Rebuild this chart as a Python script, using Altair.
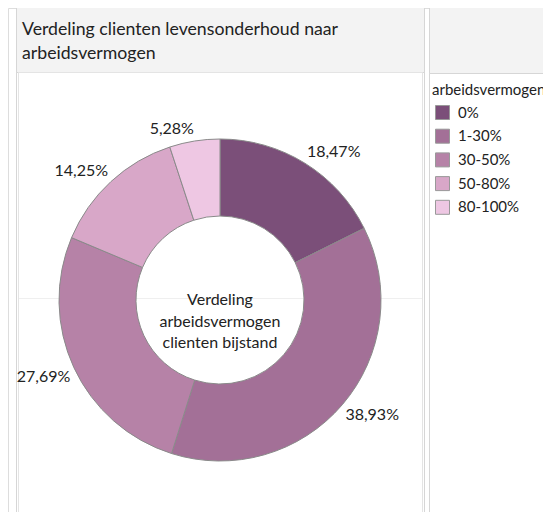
import altair as alt
import pandas as pd

# ---- data ----
categories = ["0%", "1-30%", "30-50%", "50-80%", "80-100%"]
values = [18.47, 38.93, 27.69, 14.25, 5.28]
colors = ["#7b4f79", "#a37097", "#b682a7", "#d8a7c8", "#eec7e3"]
title_lines = ["Verdeling clienten levensonderhoud naar", "arbeidsvermogen"]
center_lines = ["Verdeling", "arbeidsvermogen", "clienten bijstand"]
legend_title = "arbeidsvermogen"

df = pd.DataFrame({
    "cat": categories,
    "value": values,
    "order": list(range(len(categories))),
    "label": [f"{v:.2f}".replace(".", ",") + "%" for v in values],
})
one = pd.DataFrame({"a": [0]})

FONT = "Lato"
W, H = 535, 504
CX, CY = 212, 292
BORDER = "#d6d6d6"
HEAD = "#f3f3f3"


def box(x1, x2, y1, y2, fill, stroke):
    return alt.Chart(one).mark_rect(fill=fill, stroke=stroke, strokeWidth=1).encode(
        x=alt.value(x1), x2=alt.value(x2), y=alt.value(y1), y2=alt.value(y2)
    )


panels = [
    # main panel
    box(8.5, 416.5, -2, 530, "white", BORDER),
    box(8.5, 416.5, -2, 64.5, HEAD, BORDER),
    box(10.5, 414.5, 64.5, 530, "white", "#e4e4e4"),
    # right panel
    box(421.5, 560, -2, 530, "white", BORDER),
    box(421.5, 560, -2, 65.5, HEAD, BORDER),
]

gridline = alt.Chart(one).mark_rule(color="#efefef", strokeWidth=1).encode(
    x=alt.value(11), x2=alt.value(414), y=alt.value(290.5)
)

title1 = alt.Chart(one).mark_text(
    text=title_lines[0], font=FONT, fontSize=17.7, align="left", baseline="middle", color="#222222"
).encode(x=alt.value(14), y=alt.value(22))
title2 = alt.Chart(one).mark_text(
    text=title_lines[1], font=FONT, fontSize=17.7, align="left", baseline="middle", color="#222222"
).encode(x=alt.value(14), y=alt.value(45.5))

arcs = alt.Chart(df).mark_arc(
    innerRadius=84, outerRadius=161, stroke="#8a8a8a", strokeWidth=1
).encode(
    theta=alt.Theta("value:Q", stack=True),
    color=alt.Color(
        "cat:N",
        scale=alt.Scale(domain=categories, range=colors),
        sort=categories,
        legend=alt.Legend(
            title=legend_title,
            orient="none",
            legendX=424,
            legendY=75,
            symbolType="square",
            symbolSize=196,
            symbolStrokeColor="#999999",
            symbolStrokeWidth=1,
            symbolOffset=3,
            labelFont=FONT,
            labelFontSize=15,
            labelColor="#222222",
            labelOffset=8,
            titleFont=FONT,
            titleFontSize=15,
            titleFontWeight="normal",
            titleColor="#222222",
            titlePadding=7,
            titleLimit=400,
            rowPadding=4.7,
        ),
    ),
    order=alt.Order("order:Q", sort="ascending"),
    x=alt.value(CX),
    y=alt.value(CY),
)

# labels: placed just outside the ring at each slice's mid-angle, anchored by the
# corner nearest to the ring (as "outside end" labels)
label_base = alt.Chart(df).transform_window(
    cum="sum(value)", sort=[alt.SortField("order", order="ascending")]
).transform_calculate(mid="datum.cum - datum.value / 2")

label_groups = [
    (["0%"], "left", "bottom"),
    (["1-30%"], "left", "top"),
    (["30-50%"], "right", "top"),
    (["50-80%", "80-100%"], "right", "bottom"),
]
label_layers = []
for cats, al, bl in label_groups:
    label_layers.append(
        label_base.transform_filter(alt.FieldOneOfPredicate(field="cat", oneOf=cats))
        .mark_text(radius=165, font=FONT, fontSize=16, color="#222222", align=al, baseline=bl)
        .encode(
            theta=alt.Theta("mid:Q", stack=None),
            text="label:N",
            x=alt.value(CX),
            y=alt.value(CY),
        )
    )

center = alt.Chart(one).mark_text(
    text=center_lines, font=FONT, fontSize=16, lineHeight=21.5,
    align="center", baseline="middle", color="#222222"
).encode(x=alt.value(CX), y=alt.value(CY))

chart = alt.layer(
    *panels, gridline, title1, title2, arcs, *label_layers, center
).properties(
    width=W, height=H, autosize=alt.AutoSizeParams(type="none"), padding=0
).configure_view(stroke=None).configure(background="white")

chart.save("out.html", embed_options={"renderer": "svg", "actions": False})
